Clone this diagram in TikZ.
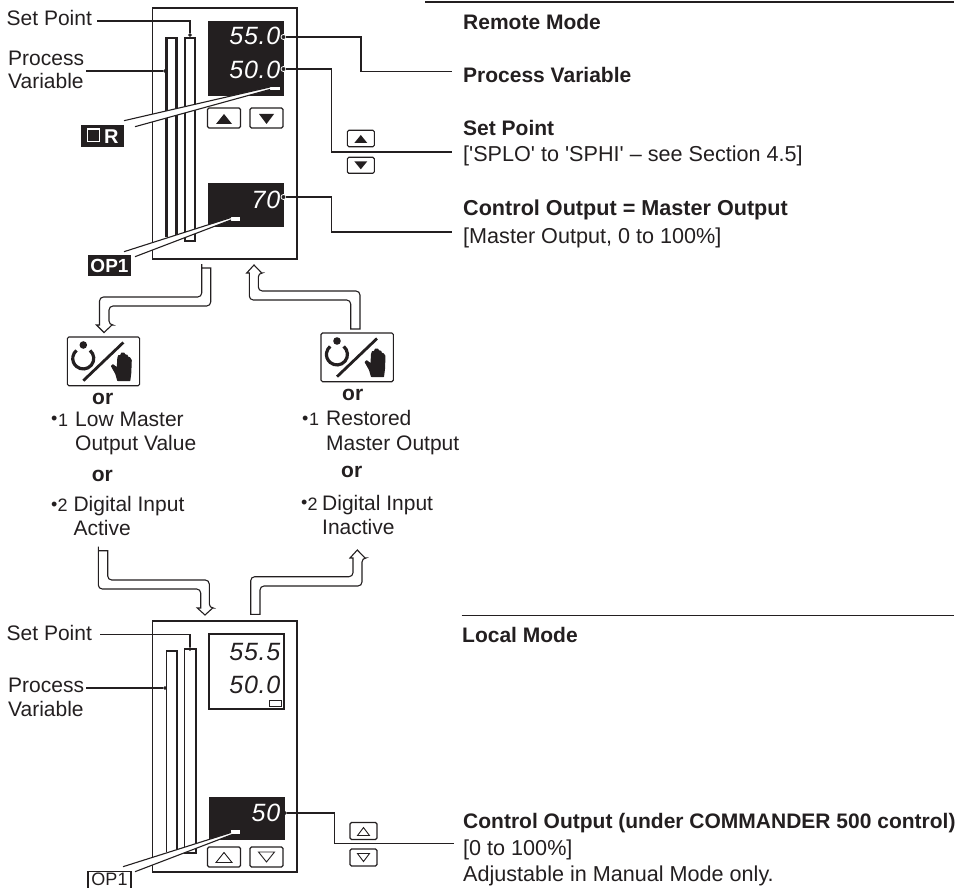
\documentclass[tikz,border=0pt]{standalone}
\usepackage{fontspec}
\setmainfont{Liberation Sans}
\definecolor{ink}{HTML}{231F20}
\newcommand{\sz}[1]{\fontsize{#1}{#1}\selectfont}
\newcommand{\ledspace}{\addfontfeature{LetterSpace=3}}
\newcommand{\dotmark}{\raisebox{1.5pt}{\textbullet}}
\begin{document}
\begin{tikzpicture}[x=1pt,y=-1pt,
	txt/.style={ anchor=base west, inner sep=0pt, text=ink, font=\sz{21} },
	txtb/.style={ anchor=base west, inner sep=0pt, text=ink, font=\sz{21}\bfseries },
	txtc/.style={ anchor=base west, inner sep=0pt, text=ink, font=\sz{21.6}\bfseries },
	txtr/.style={ anchor=base west, inner sep=0pt, text=ink, font=\sz{21.6} },
	orb/.style={ anchor=base west, inner sep=0pt, text=ink, font=\sz{21}\bfseries },
	note/.style={ anchor=base west, inner sep=0pt, text=ink, font=\sz{18} },
	led/.style={ anchor=base east, inner sep=0pt, white, font=\sz{25}\itshape\ledspace },
	ledk/.style={ anchor=base east, inner sep=0pt, text=ink, font=\sz{25}\itshape\ledspace },
	panel/.style={ draw=ink, line width=1.1pt, fill=white },
	leader/.style={ draw=ink, line width=1.1pt },
	pin/.style={ circle, draw=ink, fill=ink, inner sep=0pt, minimum size=3.2pt },
	pinw/.style={ circle, draw=white, fill=ink, line width=0.8pt, inner sep=0pt, minimum size=5pt },
	bar/.style={ draw=ink, line width=2.4pt },
	barthin/.style={ draw=ink, line width=1.1pt },
	block/.style={ draw=ink, line width=1.1pt, fill=white },
	keybox/.style={ draw=ink, line width=1.1pt, rounded corners=1.5pt },
	tag/.style={ fill=ink, text=white, inner sep=0pt, font=\sz{19}\bfseries }
]
\useasboundingbox (0,0) rectangle (956,888);

% top panel
\draw[panel] (152.5,8) rectangle (297,259);
\draw[bar] (166.5,237) |- (176.5,38) -- (176.5,237);
\draw[bar] (185,241) |- (195,38) -- (195,241) -- cycle;
\node at (246,58.5) (disptop) [fill=ink, minimum width=76pt, minimum height=75pt, inner sep=0pt] {};
\node at (246,205) (dispop) [fill=ink, minimum width=76pt, minimum height=44pt, inner sep=0pt] {};
\node at (280.5,45) (pvval) [led] {55.0};
\node at (280.5,79) (spval) [led] {50.0};
\node at (280.5,208) (opval) [led] {70};
\fill[white] (270,87) rectangle (280,90);
\fill[white] (231,217) rectangle (240,221);

% lower panel
\draw[panel] (152.5,621) rectangle (297,872);
\draw[barthin] (166.5,852) |- (177,651) -- (177,852);
\draw[barthin] (184.5,853) |- (196,649) -- (196,853) -- cycle;
\node at (246.5,671.5) (displow) [draw=ink, line width=1.1pt, minimum width=75pt, minimum height=75pt, inner sep=0pt] {};
\node at (246.5,818.5) (dispman) [fill=ink, minimum width=76pt, minimum height=43.5pt, inner sep=0pt] {};
\node at (280.5,660) (pvlow) [ledk] {55.5};
\node at (280.5,693) (splow) [ledk] {50.0};
\node at (280.5,821) (oplow) [led] {50};
\draw[ink, line width=0.8pt] (269,700) rectangle (281,706);
\fill[white] (231,830) rectangle (240,834);

% buttons
\foreach \bx/\by/\bw/\bh in {224/118/33/20, 266.5/118/33/20, 360.8/138.5/27/16.5, 360.8/165.3/27/16, 224/857/33/20, 266.5/857/33/20, 363.5/831/27/17, 363.5/857.5/27/17}
	\draw[keybox] (\bx-\bw/2,\by-\bh/2) rectangle (\bx+\bw/2,\by+\bh/2);
\foreach \bx/\by/\tw/\th in {224/119/8/-5, 266.5/119/7.5/5, 360.8/139/6.5/-4, 360.8/165.3/6.5/4}
	\fill[ink] (\bx-\tw,\by-\th) -- (\bx+\tw,\by-\th) -- (\bx,\by+\th) -- cycle;
\foreach \bx/\by/\tw/\th in {224/857.5/8/-5, 266.5/857/8/5, 363.5/831.5/6/-4, 363.5/857.5/6/4}
	\draw[ink, line width=0.9pt] (\bx-\tw,\by-\th) -- (\bx+\tw,\by-\th) -- (\bx,\by+\th) -- cycle;

% leaders to the tags
\fill[white] (124,120.7) -- (270,87) -- (270,89.5) -- (135,126.7) -- cycle;
\fill[white] (124,251.7) -- (231,217.5) -- (231,220) -- (135,256.7) -- cycle;
\fill[white] (123,866.7) -- (231,832.5) -- (231,835) -- (135,871.7) -- cycle;
\coordinate (rleadA) at (124,120.7);
\coordinate (rleadB) at (135,126.7);
\coordinate (rendA) at (270,87);
\coordinate (rendB) at (270,89.5);
\coordinate (opleadA) at (124,251.7);
\coordinate (opleadB) at (135,256.7);
\coordinate (opendA) at (231,217.5);
\coordinate (opendB) at (231,220);
\coordinate (mnleadA) at (123,866.7);
\coordinate (mnleadB) at (135,871.7);
\coordinate (mnendA) at (231,832.5);
\coordinate (mnendB) at (231,835);
\foreach \a/\b in {rleadA/rendA,rleadB/rendB,opleadA/opendA,opleadB/opendB,mnleadA/mnendA,mnleadB/mnendB}
	\draw[leader] (\a) -- (\b);

\node at (102.5,136) (tagr) [tag, minimum width=43pt, minimum height=22pt] {};
\draw[white, line width=1.6pt] (87.5,129) rectangle (99.5,141.5);
\node at (104,143) (tagrt) [anchor=base west, inner sep=0pt, white, font=\sz{20}\bfseries] {R};
\node at (109.5,265.5) (tagop) [tag, minimum width=43pt, minimum height=21pt] {OP1};
\node at (109.5,885.8) (tagman) [anchor=base, inner sep=0pt, text=ink, font=\sz{18}] {OP1};
\coordinate (mana) at (88,888);
\coordinate (manb) at (88,871.5);
\coordinate (manc) at (131,871.5);
\coordinate (mand) at (131,888);
\draw[leader] (mana) -- (manb) -- (manc) -- (mand);

% left labels
\node at (6.5,26) (setpta) [txt] {Set Point};
\node at (8,65.5) (pva) [txt] {Process};
\node at (8,89) (pvb) [txt] {Variable};
\node at (6.5,640.5) (setptb) [txt] {Set Point};
\node at (8,692.5) (pvc) [txt] {Process};
\node at (8,716.7) (pvd) [txt] {Variable};

% leaders to the labels
\node at (190,35) (spdota) [pin] {};
\node at (165,71) (pvdota) [pin] {};
\node at (190,649) (spdotb) [pin] {};
\node at (165,688) (pvdotb) [pin] {};
\node at (283.5,37) (outa) [pinw] {};
\node at (283.5,69) (outb) [pinw] {};
\node at (283.5,197) (outc) [pinw] {};
\node at (285,813) (outd) [pin] {};
\coordinate (spa) at (97,21);
\coordinate (pvla) at (86,71);
\coordinate (spb) at (100,634.5);
\coordinate (pvlb) at (86,688);
\draw[leader] (spa) -| (spdota);
\draw[leader] (pvla) -- (pvdota);
\draw[leader] (spb) -| (spdotb);
\draw[leader] (pvlb) -- (pvdotb);
\coordinate (enda) at (451.5,71.5);
\coordinate (endb) at (451.5,152);
\coordinate (endc) at (451.5,232);
\coordinate (endd) at (454,843.3);
\coordinate (bendb) at (331.7,152);
\coordinate (bendc) at (331.7,232);
\coordinate (bendd) at (334.3,843.3);
\coordinate (benda) at (361,71.5);
\draw[leader] (outa) -| (benda) -- (enda);
\draw[leader] (outb) -| (bendb) -- (endb);
\draw[leader] (outc) -| (bendc) -- (endc);
\draw[leader] (outd) -| (bendd) -- (endd);

% block arrows
\draw[block] (201.7,268) -- (210.7,268) [rounded corners=4pt] -- (210.7,306) -- (109,306) -- (109,325) [sharp corners] -- (112,325) -- (104,332.5) -- (96.5,325) -- (99.5,325) [rounded corners=4pt] -- (99.5,297) -- (201.7,297) -- (201.7,268) [sharp corners] -- cycle;
\draw[block] (350.7,329) -- (360,329) [rounded corners=4pt] -- (360,291) -- (258.3,291) -- (258.3,273) [sharp corners] -- (261.7,273) -- (254,265) -- (246.7,273) -- (249.3,273) [rounded corners=4pt] -- (249.3,300) -- (350.7,300) -- (350.7,329) [sharp corners] -- cycle;
\draw[block] (98.3,550.7) -- (107.7,550.7) [rounded corners=4pt] -- (107.7,580) -- (209.3,580) -- (209.3,608) [sharp corners] -- (212.7,608) -- (205,615) -- (197.3,608) -- (200.7,608) [rounded corners=4pt] -- (200.7,589) -- (98.3,589) -- (98.3,550.7) [sharp corners] -- cycle;
\draw[block] (250.7,614.3) -- (260,614.3) [rounded corners=4pt] -- (260,586) -- (362,586) -- (362,558) [sharp corners] -- (365,558) -- (357.3,550) -- (350,558) -- (353,558) [rounded corners=4pt] -- (353,576.7) -- (250.7,576.7) -- (250.7,614.3) [sharp corners] -- cycle;

% mode keys
\foreach \kx/\ky in {67.3/337,321/333}{
	\begin{scope}[shift={(\kx,\ky)}]
		\draw[keybox] (0,0) rectangle (72.3,48.7);
		\draw[ink, line width=2.8pt] (16,43.7) -- (56,5.5);
		\fill[ink] (16,8) circle (3.8pt);
		\draw[ink, line width=3.2pt] (22.7,13.4) arc[start angle=50, end angle=-230, radius=10.5pt];
		\fill[ink, rounded corners=0.5pt] (50,44) -- (63,44) -- (64,36) -- (64.5,23) -- (62.5,20) -- (61,20) -- (60,17.5) -- (58,17.5) -- (57,15.5) -- (54,15.5) -- (53,18) -- (51,18) -- (50,21) -- (49.5,30) -- (45.5,27) -- (43.5,29) -- (48,37) -- cycle;
	\end{scope}
}

% conditions
\node at (92,404) (ora) [orb] {or};
\node at (342,400.7) (orc) [orb] {or};
\node at (91.7,481.7) (orb) [orb] {or};
\node at (341,477.7) (ord) [orb] {or};
\node at (51,426) (bula) [note] {\dotmark\kern0.5pt 1};
\node at (75,426) (lowa) [txt] {Low Master};
\node at (75,450) (lowb) [txt] {Output Value};
\node at (51,511.7) (bulb) [note] {\dotmark\kern0.2pt 2};
\node at (73.3,511.7) (dia) [txt] {Digital Input};
\node at (73.3,535.7) (dib) [txt] {Active};
\node at (302,425.7) (bulc) [note] {\dotmark\kern0.5pt 1};
\node at (326,425.7) (resa) [txt] {Restored};
\node at (326,450) (resb) [txt] {Master Output};
\node at (301,510) (buld) [note] {\dotmark\kern0.2pt 2};
\node at (322,510) (dic) [txt] {Digital Input};
\node at (322,534) (did) [txt] {Inactive};

% right column
\coordinate (rulea) at (425,2);
\coordinate (ruleb) at (954,2);
\coordinate (rulec) at (461.5,615.3);
\coordinate (ruled) at (954,615.3);
\draw[leader] (rulea) -- (ruleb);
\draw[leader] (rulec) -- (ruled);
\node at (463,29.3) (remote) [txtb] {Remote Mode};
\node at (463,82.7) (procvar) [txtb] {Process Variable};
\node at (463,136) (setpt) [txtb] {Set Point};
\node at (463,162) (setrng) [txtr] {[\textquotesingle SPLO\textquotesingle{} to \textquotesingle SPHI\textquotesingle{} – see Section 4.5]};
\node at (463,215) (ctrl) [txtc] {Control Output = Master Output};
\node at (463,243) (ctrlrng) [txtr] {[Master Output, 0 to 100\%]};
\node at (462,642.7) (local) [txtb] {Local Mode};
\node at (463,828.3) (ctrlb) [txtb] {Control Output (under COMMANDER 500 control)};
\node at (463,855) (rngb) [txtr] {[0 to 100\%]};
\node at (463,881.7) (adj) [txtr] {Adjustable in Manual Mode only.};

\end{tikzpicture}
\end{document}
